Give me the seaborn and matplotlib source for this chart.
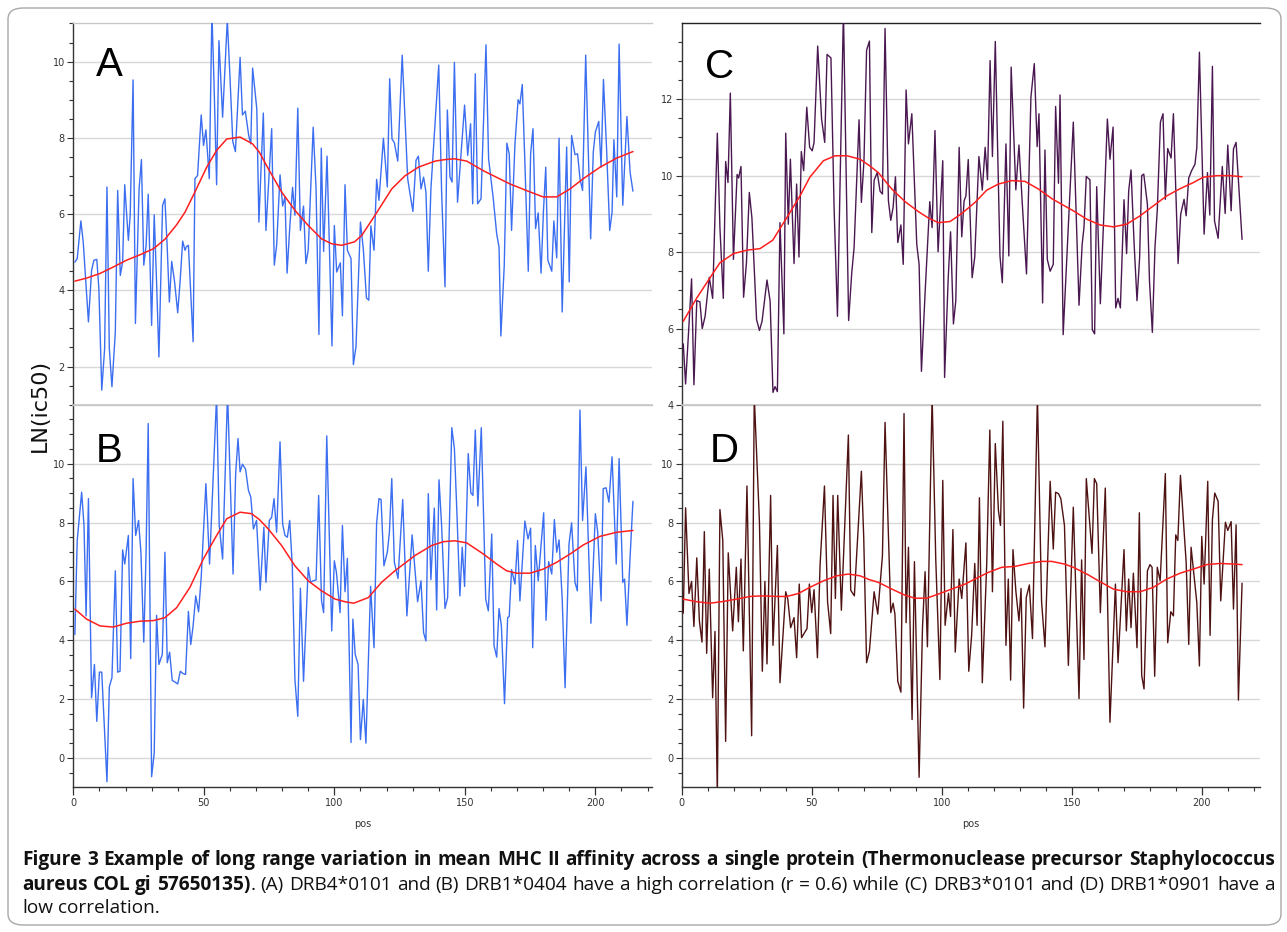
import numpy as np
import pandas as pd
import matplotlib
matplotlib.use("Agg")
import matplotlib.pyplot as plt
import seaborn as sns
from matplotlib.patches import FancyBboxPatch
from matplotlib.ticker import MultipleLocator

sns.set_theme(style="white")
plt.rcParams["font.family"] = ["DejaVu Sans"]

# ---------------- data ----------------
a_pos = [0.6,1.5,2.9,3.8,5.8,7.0,7.9,9.0,9.8,10.9,12.0,12.9,13.8,14.8,16.1,17.0,18.0,18.9,19.7,21.1,
         21.8,22.9,23.8,25.2,26.1,27.0,27.9,28.7,30.0,31.0,31.9,32.8,34.2,35.1,36.0,36.8,37.7,38.8,40.0,40.9,
         41.9,42.8,43.3,44.1,45.9,46.6,47.6,49.0,49.9,50.8,52.1,53.1,53.9,54.9,55.8,57.2,59.0,60.0,61.1,62.1,
         63.9,64.8,65.9,67.2,68.0,68.7,70.3,71.1,
         72.8,73.8,76.0,77.0,77.9,79.2,80.2,81.1,81.9,82.9,84.0,84.9,86.0,87.0,88.2,89.1,90.0,91.9,93.0,94.1,
         95.0,95.9,97.2,99.1,100.0,100.9,102.3,103.1,104.1,105.0,106.4,107.3,108.3,110.0,111.1,112.3,113.2,114.0,115.2,116.2,
         117.1,118.8,120.3,121.2,122.1,123.0,124.3,126.0,128.1,129.1,130.1,131.3,132.2,133.2,134.2,135.1,136.0,137.0,138.8,140.0,
         141.1,142.4,143.3,144.3,145.1,146.0,
         147.2,149.9,151.1,152.2,153.0,154.0,154.9,156.2,158.1,159.1,160.9,162.2,163.1,163.8,165.1,166.1,167.0,167.9,169.2,170.4,
         171.1,172.0,173.0,174.3,175.2,176.1,177.1,178.1,179.2,180.1,181.0,181.8,183.3,184.1,185.2,186.1,187.3,189.0,190.0,190.9,
         192.2,193.2,194.1,195.1,196.3,198.2,199.2,200.0,201.3,202.2,203.1,204.3,205.5,206.4,207.1,208.2,209.1,210.5,212.1,213.3,
         214.4]
a_ic50 = [4.74,4.83,5.82,5.27,3.17,4.52,4.79,4.81,4.04,1.38,2.47,6.71,2.47,1.47,2.91,6.62,4.39,4.74,6.77,5.31,
          5.97,9.52,3.13,6.66,7.43,4.66,5.18,6.52,3.08,5.98,4.22,2.25,6.23,6.40,5.09,3.69,4.76,4.22,3.41,4.22,
          5.29,5.05,5.14,5.18,2.65,6.93,7.01,8.60,7.80,8.21,6.93,11.3,9.46,6.77,10.55,8.54,11.1,9.63,7.90,7.64,
          10.11,8.60,8.70,8.06,7.84,9.83,8.76,5.79,
          8.65,5.57,8.24,4.66,5.18,7.03,6.21,6.45,4.45,5.62,6.70,5.97,8.78,5.57,6.21,4.70,5.05,8.28,6.66,2.84,
          7.73,5.02,7.52,2.54,5.70,4.48,4.72,3.33,6.77,5.05,4.83,2.05,2.52,5.79,5.09,3.80,3.74,5.69,5.05,6.91,
          6.36,7.99,6.71,9.55,7.97,7.87,7.39,10.17,6.93,6.49,6.07,7.41,7.52,6.66,6.97,6.58,4.50,6.66,8.59,9.91,
          6.58,4.09,8.73,6.97,6.84,9.98,
          6.31,8.86,7.54,8.37,6.27,9.68,6.27,6.40,10.44,7.45,6.40,5.48,5.13,2.80,4.66,7.86,7.58,5.57,7.84,9.00,
          8.89,9.40,7.36,4.50,7.58,8.24,5.62,6.03,4.45,6.06,7.23,4.79,4.50,5.82,4.85,7.99,3.43,7.76,4.22,8.06,
          7.56,7.58,6.93,6.62,10.17,5.35,7.62,8.15,8.43,7.23,9.53,7.71,5.57,6.05,7.95,6.45,10.46,6.23,8.56,7.10,
          6.60]
a_fit_pos = [0.6,5.1,10.2,15.3,20.4,25.5,30.7,35.1,39.6,42.8,46.6,51.1,54.9,58.8,63.9,68.7,71.3,
             74.7,79.8,84.9,90.0,95.1,99.0,102.8,107.7,110.5,115.6,122.0,127.0,132.2,138.6,142.4,146.0,
             150.7,157.0,167.3,175.0,180.0,185.2,190.3,195.4,201.8,208.2,214.4]
a_fit = [4.24,4.32,4.44,4.61,4.79,4.93,5.09,5.34,5.72,6.05,6.58,7.23,7.67,7.97,8.02,7.84,7.62,
         7.19,6.58,6.10,5.70,5.35,5.22,5.18,5.27,5.44,5.97,6.66,7.00,7.23,7.39,7.43,7.45,
         7.39,7.14,6.79,6.58,6.45,6.45,6.66,6.93,7.23,7.47,7.64]

b_pos = [0.6,1.5,3.2,4.1,4.9,5.8,7.0,8.1,9.0,10.0,10.9,12.9,13.8,14.8,16.1,17.0,17.9,18.9,19.7,21.1,
         22.0,22.9,23.9,25.0,25.9,27.0,27.9,28.7,30.0,31.0,31.9,32.8,34.1,35.1,36.0,36.9,37.9,39.0,40.0,41.0,
         41.9,43.0,44.1,45.0,45.9,46.9,48.0,49.0,50.8,52.2,54.9,55.9,57.2,59.1,61.2,62.2,63.1,63.9,64.8,66.0,
         67.1,68.0,69.0,70.2,71.6,
         73.0,73.8,75.1,76.0,76.9,77.9,79.2,80.2,81.1,82.0,82.9,83.9,84.9,86.0,87.0,88.2,90.0,90.9,91.9,93.0,
         94.0,95.1,95.9,97.1,99.0,100.0,100.8,102.2,103.1,104.1,105.0,106.4,107.1,108.0,109.1,110.0,111.1,112.1,113.9,115.2,
         116.2,117.1,117.9,119.0,120.3,121.1,122.0,123.0,124.4,126.2,127.8,129.8,131.9,133.2,134.2,135.1,136.0,137.0,138.3,139.2,
         140.1,141.1,142.4,143.4,145.0,146.0,
         146.9,148.1,149.0,149.9,151.3,152.3,153.1,154.0,155.0,156.3,158.0,159.0,160.3,161.2,162.2,163.1,164.0,165.2,166.4,167.0,
         167.9,169.2,170.2,171.1,173.0,174.2,175.2,176.0,177.0,178.1,180.2,181.1,182.1,183.3,184.3,185.2,186.1,187.3,188.4,189.9,
         190.9,192.2,193.1,194.1,195.1,196.4,198.3,200.0,200.9,202.2,203.0,204.1,205.2,206.4,208.0,209.1,210.5,211.2,212.1,213.3,
         214.4]
b_ic50 = [4.20,7.39,9.03,7.90,4.83,8.81,2.05,3.18,1.25,2.92,2.92,-0.80,2.42,2.73,6.36,2.92,2.95,7.07,6.59,7.56,
          3.38,9.49,7.56,8.07,6.99,3.94,7.05,11.36,-0.63,0.17,4.85,3.18,3.52,6.99,3.24,3.60,2.64,2.58,2.52,2.95,
          2.88,2.84,4.98,3.86,4.49,5.51,4.97,6.14,9.32,6.59,12.3,7.90,6.76,12.4,6.25,9.66,10.85,9.72,9.98,9.81,
          9.09,8.86,7.78,8.07,5.70,
          7.84,5.97,8.07,8.18,8.81,7.67,10.74,7.95,7.56,7.50,8.07,6.53,2.67,1.42,5.77,2.61,6.48,5.97,6.02,6.05,
          8.92,5.34,4.94,10.94,4.32,6.70,6.31,4.94,7.90,5.65,6.78,0.53,4.72,3.52,3.18,0.63,1.99,0.51,5.83,3.75,
          7.98,8.81,8.78,6.53,6.99,7.67,9.49,6.65,6.10,8.78,4.83,7.58,5.31,6.02,4.26,3.98,8.98,6.06,8.49,5.03,
          9.45,7.90,5.08,5.45,11.22,10.51,
          8.47,5.51,7.16,5.83,10.34,9.01,8.92,11.14,8.56,11.22,5.40,5.00,7.61,3.81,3.43,5.08,4.49,1.85,4.77,4.81,
          6.40,5.91,7.39,5.34,8.05,7.44,7.81,3.75,7.22,6.02,8.33,4.68,6.67,6.25,8.10,6.99,7.41,5.40,2.39,7.27,
          7.99,5.97,5.68,11.82,8.07,9.89,4.58,8.30,7.67,5.34,9.15,9.18,8.69,10.23,6.59,10.17,5.97,6.08,4.51,6.82,
          8.72]
b_fit_pos = [0.6,5.1,10.2,15.3,20.4,25.6,30.7,35.1,39.6,44.7,49.8,54.9,58.8,63.9,68.3,71.3,
             74.7,79.8,84.9,90.0,95.1,100.3,104.1,107.4,113.0,118.1,123.2,130.9,137.3,141.8,146.0,
             150.7,157.1,162.2,166.0,169.8,175.0,180.1,185.2,190.3,195.4,201.8,208.2,214.4]
b_fit = [5.06,4.72,4.49,4.45,4.58,4.65,4.67,4.77,5.11,5.80,6.76,7.56,8.13,8.35,8.30,8.10,
         7.78,7.22,6.53,6.02,5.68,5.40,5.31,5.26,5.45,5.97,6.36,6.88,7.22,7.35,7.38,
         7.31,6.93,6.59,6.36,6.28,6.28,6.42,6.65,6.93,7.24,7.53,7.67,7.73]

c_pos = [0.6,1.5,3.8,4.7,5.8,7.0,7.9,9.0,10.6,11.9,13.7,14.7,16.0,16.9,17.8,18.7,19.9,21.3,21.9,22.8,
         23.8,24.9,26.0,27.0,28.8,29.9,30.9,32.8,34.0,35.1,35.9,36.8,37.8,39.3,40.0,41.0,41.8,43.2,44.2,45.1,
         46.0,46.9,48.1,49.2,50.2,50.9,52.3,53.8,55.0,55.9,57.4,58.6,59.9,62.2,64.2,65.4,66.3,68.2,69.1,70.1,
         71.1,72.2,
         73.1,74.0,75.2,76.3,77.2,78.2,79.5,80.4,81.3,82.2,83.1,84.3,85.2,86.3,87.2,88.5,90.4,91.3,92.2,93.6,
         94.3,95.4,96.3,97.4,98.6,100.4,101.1,102.5,103.4,104.5,105.4,106.7,107.7,108.6,109.3,110.2,111.7,112.7,114.3,115.6,
         116.7,117.6,118.6,119.5,120.6,122.4,123.3,124.7,125.8,126.7,128.5,129.7,131.0,132.6,134.3,135.6,136.7,137.4,138.8,139.7,
         140.6,141.7,142.9,143.8,144.9,145.5,146.7,
         150.6,152.8,154.0,154.7,155.6,157.0,157.9,158.8,159.6,161.0,162.2,163.7,164.7,165.9,166.9,167.8,168.7,170.1,171.1,171.9,
         172.8,174.0,175.1,176.1,176.9,177.7,179.1,179.9,181.0,182.0,182.9,184.1,185.1,186.0,186.9,188.2,189.1,190.1,190.9,191.9,
         193.2,194.0,195.0,196.1,197.4,198.1,199.1,200.9,202.2,203.1,204.1,204.9,206.3,207.9,209.0,210.0,211.3,212.2,213.2,215.5]
c_ic50 = [5.60,4.55,7.30,4.53,6.73,6.70,6.00,6.32,7.34,6.79,11.11,8.64,6.79,10.37,9.82,12.16,7.81,10.03,9.94,10.24,
          6.82,7.72,9.56,8.90,6.23,5.95,6.19,7.27,6.72,4.33,4.48,4.35,8.77,5.86,11.11,8.73,10.43,7.70,9.78,7.87,
          10.63,10.13,11.79,10.74,10.65,10.87,13.39,11.48,10.87,13.17,13.08,9.17,6.32,14.3,6.21,7.46,8.12,11.46,9.30,10.39,
          13.28,13.52,
          8.51,9.88,10.08,9.59,9.52,13.85,9.34,8.83,9.17,9.97,8.25,8.71,7.68,12.24,10.83,11.62,8.20,7.68,4.88,6.93,
          7.85,9.32,8.64,11.18,8.01,10.39,4.72,7.33,8.53,6.12,6.72,10.74,8.40,9.34,9.47,10.42,7.33,7.87,10.50,9.62,
          10.74,9.89,13.01,10.50,13.51,7.90,7.20,10.83,7.90,12.84,9.63,10.80,9.25,7.43,12.05,12.93,10.76,11.62,6.67,10.67,
          7.81,7.50,7.68,11.81,9.80,12.11,5.84,
          11.40,6.61,8.20,8.64,9.98,9.89,5.97,5.86,9.71,6.65,8.73,11.48,10.43,11.27,6.54,6.79,6.54,9.37,7.96,9.60,
          10.15,8.20,6.73,7.85,10.00,10.04,9.25,7.24,5.90,8.11,9.10,11.40,11.62,9.38,10.71,10.46,11.62,9.47,7.70,8.99,
          9.38,8.95,9.94,10.13,10.30,10.74,13.23,8.47,10.08,8.97,12.86,8.82,8.36,10.24,9.01,10.80,9.08,10.70,10.87,8.33]
c_fit_pos = [0.6,5.8,10.9,14.7,19.9,25.0,30.1,35.0,40.4,45.5,49.3,54.5,59.0,63.5,68.6,72.2,
             75.6,80.8,85.9,91.0,94.9,98.7,103.2,107.7,112.8,117.3,121.8,126.9,132.0,137.2,142.3,147.2,
             150.6,155.8,160.9,166.0,171.1,176.3,181.4,186.5,191.7,196.8,200.6,205.8,210.9,215.5]
c_fit = [6.19,6.80,7.33,7.72,7.96,8.05,8.09,8.31,8.90,9.47,9.96,10.39,10.52,10.52,10.43,10.26,
         10.08,9.65,9.32,9.06,8.89,8.77,8.80,9.01,9.30,9.62,9.78,9.87,9.85,9.65,9.40,9.21,
         9.08,8.86,8.71,8.66,8.73,8.95,9.21,9.47,9.66,9.82,9.96,10.00,10.00,9.97]

d_pos = [0.6,1.5,2.8,3.8,4.7,5.8,6.8,7.8,8.7,9.6,10.6,11.9,12.8,13.7,14.7,15.8,16.9,17.9,19.6,21.0,
         21.8,22.8,23.7,25.1,26.9,27.9,29.9,31.0,32.0,32.8,34.2,35.1,36.8,37.8,40.0,40.8,41.9,43.2,44.2,45.2,
         46.1,48.2,49.1,50.0,50.9,52.2,53.2,54.9,56.1,57.3,58.2,59.1,60.0,61.4,64.1,65.0,66.4,69.1,70.0,71.1,
         72.2,
         74.0,75.4,77.2,78.2,80.4,81.3,82.0,83.1,84.3,85.5,86.3,87.2,88.6,89.5,91.3,92.6,93.6,94.5,96.3,97.7,
         99.3,100.4,101.3,102.6,103.4,104.3,105.2,106.7,107.7,109.3,110.4,111.5,112.7,113.6,114.5,115.6,117.3,118.5,119.5,120.6,
         121.8,122.6,123.5,124.7,125.6,126.5,127.4,128.5,129.7,130.5,131.5,132.5,133.7,134.9,136.8,138.4,139.7,141.7,142.9,143.8,
         144.9,145.8,147.2,
         148.7,150.6,152.8,153.8,154.7,155.6,157.8,158.7,159.6,161.0,162.9,164.7,166.8,167.8,170.1,171.0,171.9,172.8,173.7,175.1,
         176.0,176.9,177.8,179.1,180.1,180.9,181.9,182.9,184.0,186.0,186.9,188.1,189.1,190.0,190.8,191.8,194.0,195.0,195.9,198.1,
         199.1,200.0,200.9,202.3,203.2,204.1,205.0,206.3,207.3,209.1,210.0,211.3,212.2,213.2,214.1,215.5]
d_ic50 = [4.92,8.50,5.59,6.00,4.47,6.80,4.66,3.94,7.69,3.56,6.42,2.05,4.30,-1.30,8.44,7.39,0.57,6.97,4.32,6.48,
          4.63,6.76,3.64,9.24,0.76,12.3,8.01,2.95,6.00,3.20,8.92,3.83,7.22,2.56,5.65,5.40,4.43,4.77,3.41,5.91,
          4.09,4.40,5.91,4.94,5.72,3.41,6.53,9.24,5.31,4.23,8.92,5.42,8.92,5.02,10.97,5.70,5.51,9.74,7.50,3.24,
          3.64,
          5.65,4.89,6.88,11.40,4.94,5.26,4.89,2.61,2.24,11.70,4.60,7.16,1.31,6.67,-0.65,4.43,6.33,3.78,12.3,6.76,
          2.67,9.43,4.51,5.60,4.81,7.76,3.60,6.08,5.42,7.31,2.95,4.17,6.61,4.51,8.84,2.56,6.59,11.14,5.65,10.68,
          8.41,7.90,11.44,3.83,6.08,2.65,7.08,5.68,4.66,5.76,1.70,5.45,5.88,4.06,12.3,5.31,3.78,9.40,7.10,9.03,
          8.98,8.81,7.90,
          3.15,8.52,2.02,6.73,3.35,9.49,6.95,9.49,9.32,4.94,9.17,1.22,5.91,3.24,7.08,4.32,6.08,4.43,6.28,3.75,
          8.33,2.81,2.35,6.36,6.57,6.48,2.78,6.48,6.02,9.66,3.92,4.97,4.83,7.58,7.39,9.60,6.65,3.86,7.16,5.28,
          3.13,7.53,5.91,9.40,4.17,8.10,9.00,8.72,5.34,8.01,7.73,8.03,5.06,7.92,1.97,5.94]
d_fit_pos = [0.6,5.8,10.9,16.0,21.1,26.3,31.4,36.5,40.4,44.9,49.3,54.5,59.6,64.1,68.6,72.2,
             75.6,80.8,85.9,89.7,94.2,98.7,103.8,109.0,114.1,118.0,123.1,128.2,133.3,138.5,142.3,147.2,
             150.6,155.8,160.9,166.0,171.1,176.3,181.4,186.5,191.7,196.8,201.9,207.0,212.2,215.5]
d_fit = [5.40,5.31,5.26,5.32,5.40,5.49,5.51,5.49,5.49,5.59,5.80,6.02,6.19,6.25,6.19,6.06,
         5.97,5.74,5.53,5.43,5.43,5.57,5.74,5.91,6.14,6.31,6.48,6.51,6.61,6.68,6.68,6.59,
         6.48,6.25,5.99,5.74,5.65,5.65,5.80,6.08,6.28,6.42,6.57,6.61,6.59,6.57]

panel_letters = ["A", "B", "C", "D"]
y_label = "LN(ic50)"
x_label = "pos"
x_ticks = [0, 50, 100, 150, 200]
caption_bold = ("Figure 3 Example of long range variation in mean MHC II affinity across a single protein "
                "(Thermonuclease precursor Staphylococcus aureus COL gi 57650135)")
caption_rest = (". (A) DRB4*0101 and (B) DRB1*0404 have a high correlation (r = 0.6) while "
                "(C) DRB3*0101 and (D) DRB1*0901 have a low correlation.")
caption_line_starts = ["aureus", "low"]

# ---------------- figure ----------------
W, H = 1287, 932
fig = plt.figure(figsize=(W / 100, H / 100), dpi=100)
fig.patch.set_facecolor("white")

def fx(px):
    return px / W

def fy(py):
    return 1 - py / H

border = FancyBboxPatch((fx(8), fy(925)), fx(1281) - fx(8), fy(8) - fy(925),
                        boxstyle="round,pad=0,rounding_size=0.012",
                        transform=fig.transFigure, facecolor="none",
                        edgecolor="#a8a8a8", linewidth=1.0)
fig.patches.append(border)

cols = {"left": (73.3, 652.0, 221.7), "right": (681.7, 1260.0, 222.4)}
rows = {"top": (23.5, 405.0), "bottom": (405.0, 787.0)}

panels = [
    ("A", "left", "top", a_pos, a_ic50, a_fit_pos, a_fit, "#3b6ef0", (0.99, 11.0)),
    ("B", "left", "bottom", b_pos, b_ic50, b_fit_pos, b_fit, "#3b6ef0", (-0.98, 11.99)),
    ("C", "right", "top", c_pos, c_ic50, c_fit_pos, c_fit, "#4a1850", (4.0, 13.98)),
    ("D", "right", "bottom", d_pos, d_ic50, d_fit_pos, d_fit, "#4f1212", (-0.98, 11.99)),
]

axes = {}
for name, col, row, xp, yv, fp, fv, color, ylim in panels:
    x0, x1, xmax = cols[col]
    y0, y1 = rows[row]
    ax = fig.add_axes([fx(x0), fy(y1), fx(x1) - fx(x0), (y1 - y0) / H])
    axes[name] = ax
    df = pd.DataFrame({"pos": xp, "ic50": yv})
    fit = pd.DataFrame({"pos": fp, "ic50": fv})
    ax.yaxis.grid(True, color="#d8d8d8", linewidth=1.0)
    ax.set_axisbelow(True)
    sns.lineplot(data=df, x="pos", y="ic50", ax=ax, color=color, linewidth=1.0,
                 sort=False, estimator=None, zorder=3)
    sns.lineplot(data=fit, x="pos", y="ic50", ax=ax, color="#ff1f1f", linewidth=1.1,
                 sort=False, estimator=None, zorder=4)
    ax.set_xlim(0, xmax)
    ax.set_ylim(*ylim)
    ax.set_xlabel("")
    ax.set_ylabel("")
    ax.yaxis.set_major_locator(MultipleLocator(2))
    ax.yaxis.set_minor_locator(MultipleLocator(0.5))
    ax.tick_params(axis="y", which="major", direction="out", length=4, width=0.8,
                   color="#333333", labelsize=7, labelcolor="#333333", pad=2, left=True)
    ax.tick_params(axis="y", which="minor", direction="out", length=3, width=0.8,
                   color="#333333", left=True)
    ax.spines["right"].set_visible(False)
    ax.spines["left"].set_color("#333333")
    ax.spines["left"].set_linewidth(1.0)
    ax.spines["top"].set_color("#222222" if name == "C" else "#c8c8c8")
    ax.spines["top"].set_linewidth(1.0)
    if row == "top":
        ax.spines["bottom"].set_color("#c8c8c8")
        ax.tick_params(axis="x", which="both", bottom=False, labelbottom=False)
    else:
        ax.spines["bottom"].set_color("#333333")
        ax.spines["bottom"].set_linewidth(1.0)
        ax.set_xticks(x_ticks)
        ax.xaxis.set_minor_locator(MultipleLocator(10))
        ax.tick_params(axis="x", which="major", direction="out", length=6, width=0.9,
                       color="#333333", labelsize=7, labelcolor="#333333", pad=2, bottom=True)
        ax.tick_params(axis="x", which="minor", direction="out", length=3, width=0.8,
                       color="#333333", bottom=True)
        ax.set_xlabel(x_label, fontsize=7, color="#333333", labelpad=8)

# panel letters
letter_pos = {"A": (96, 76), "B": (96, 462), "C": (705, 78), "D": (710, 462)}
for k, (px, py) in letter_pos.items():
    fig.text(fx(px), fy(py), k, fontsize=29, color="black", va="baseline", ha="left",
             family=["Liberation Sans", "DejaVu Sans"])

fig.text(fx(40), fy(405), y_label, rotation=90, fontsize=16, ha="center", va="center",
         color="#111111")

# ---------------- caption (justified, explicit line breaks) ----------------
cap_font = ["Open Sans", "DejaVu Sans"]
renderer = fig.canvas.get_renderer()

def measure(s, weight, size):
    t = fig.text(0, 0, s, fontsize=size, fontweight=weight, family=cap_font)
    w = t.get_window_extent(renderer).width
    t.remove()
    return w

bold_words = caption_bold.split(" ")
rest_words = caption_rest.split(" ")
tokens = [[w, "bold", None] for w in bold_words]
tokens[-1][2] = rest_words[0]          # the "." glued to the bold part
tokens += [[w, "normal", None] for w in rest_words[1:] if w]

lines, cur = [], []
starts = list(caption_line_starts)
for i, tok in enumerate(tokens):
    if starts and tok[0] == starts[0] and cur:
        lines.append(cur)
        cur = []
        starts.pop(0)
    cur.append(i)
lines.append(cur)

X0, X1 = 22, 1275

def natural_width(idxs, size):
    sp = measure("a b", "normal", size) - measure("ab", "normal", size)
    tot = 0
    for i in idxs:
        w, wt, tail = tokens[i]
        tot += measure(w, wt, size) + (measure(tail, "normal", size) if tail else 0)
    return tot + sp * (len(idxs) - 1)

# font size: the widest of the first two lines fits the column with normal spacing
s0 = 12.0
nw = max(natural_width(lines[0], s0), natural_width(lines[1], s0))
cap_size = s0 * (X1 - X0) / nw * 0.995

widths = []
for w, wt, tail in tokens:
    ww = measure(w, wt, cap_size)
    if tail:
        ww += measure(tail, "normal", cap_size)
    widths.append(ww)
space_w = measure("a b", "normal", cap_size) - measure("ab", "normal", cap_size)

baselines = [865, 890, 913]
for li, idxs in enumerate(lines):
    total = sum(widths[i] for i in idxs)
    if li < len(lines) - 1 and len(idxs) > 1:
        gap = (X1 - X0 - total) / (len(idxs) - 1)
    else:
        gap = space_w
    x = X0
    yb = baselines[min(li, len(baselines) - 1)]
    for i in idxs:
        w, wt, tail = tokens[i]
        fig.text(fx(x), fy(yb), w, fontsize=cap_size, fontweight=wt, family=cap_font,
                 va="baseline", ha="left", color="#111111")
        if tail:
            fig.text(fx(x + measure(w, wt, cap_size)), fy(yb), tail, fontsize=cap_size,
                     fontweight="normal", family=cap_font, va="baseline", ha="left",
                     color="#111111")
        x += widths[i] + gap

fig.savefig("out.png", dpi=100, facecolor="white")
